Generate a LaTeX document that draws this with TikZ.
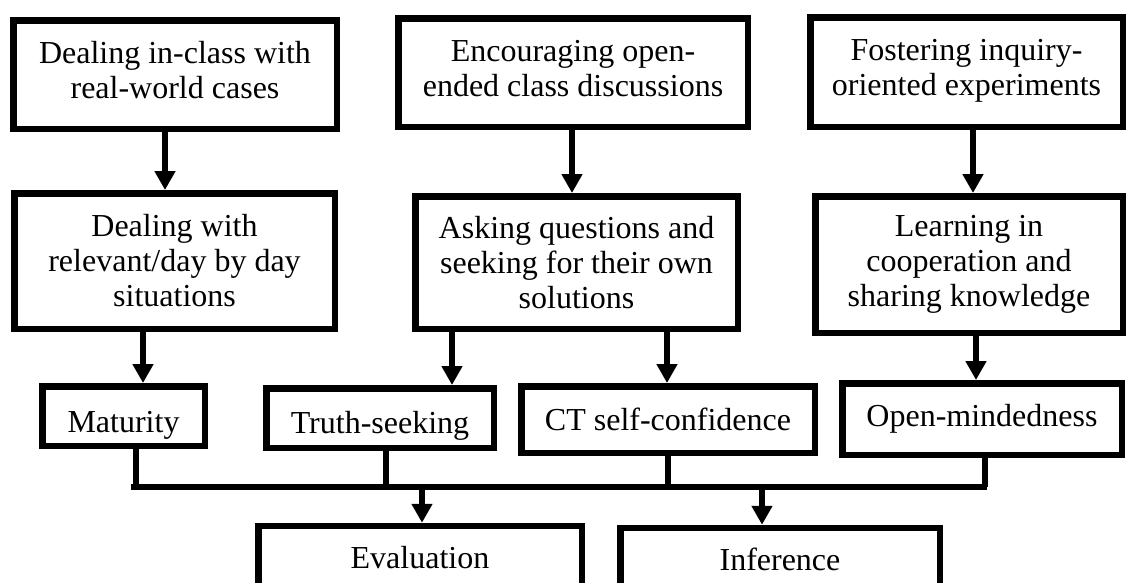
\documentclass[tikz,border=0pt]{standalone}
\usepackage{fontspec}
\setmainfont{Liberation Serif}
\usetikzlibrary{arrows.meta}
\begin{document}
\begin{tikzpicture}[x=1pt,y=-1pt,
  box/.style={draw, line width=6.5pt, align=center, inner sep=0pt,
    font=\fontsize{32}{35}\selectfont},
  arr/.style={line width=6pt, -{Triangle[width=20pt,length=19pt]}},
  link/.style={line width=6pt}]
\useasboundingbox (0,0) rectangle (1128,582);
\clip (0,0) rectangle (1128,582);
% row 1
\node[box, minimum width=323.5pt, minimum height=108.5pt, text depth=8.5pt] (A1) at (175,74.5)
  {Dealing in-class with\\real-world cases};
\node[box, minimum width=349.5pt, minimum height=108.5pt, text depth=8.5pt] (B1) at (573,72.5)
  {Encouraging open-\\ended class discussions};
\node[box, minimum width=312.5pt, minimum height=109.5pt, text depth=9.5pt] (C1) at (966.5,72)
  {Fostering inquiry-\\oriented experiments};
% row 2
\node[box, minimum width=320.5pt, minimum height=135.5pt] (A2) at (174.5,261)
  {Dealing with\\relevant/day by day\\situations};
\node[box, minimum width=322.5pt, minimum height=132.5pt] (B2) at (576.5,262.5)
  {Asking questions and\\seeking for their own\\solutions};
\node[box, minimum width=307.5pt, minimum height=136.5pt] (C2) at (969,264.5)
  {Learning in\\cooperation and\\sharing knowledge};
% row 3
\node[box, minimum width=162.5pt, minimum height=59.5pt, text height=32pt, text depth=0pt] (Mat) at (123.5,416) {Maturity};
\node[box, minimum width=227.5pt, minimum height=59.5pt, text height=30pt, text depth=0pt] (Tru) at (380,418) {Truth-seeking};
\node[box, minimum width=293.5pt, minimum height=66.5pt] (CT) at (668,419.5) {CT self-confidence};
\node[box, minimum width=279.5pt, minimum height=71.5pt] (Open) at (982,419) {Open-mindedness};
% row 4
\node[box, minimum width=323.5pt, minimum height=70pt, text depth=7.9pt] (Eval) at (420,561) {Evaluation};
\node[box, minimum width=319.5pt, minimum height=70pt, text depth=7.9pt] (Inf) at (780,563) {Inference};
% arrows rows 1-2
\draw[arr] ([xshift=-10pt]A1.south) -- ([xshift=-10pt]A1.south |- A2.north);
\draw[arr] ([xshift=-1pt]B1.south) -- ([xshift=-1pt]B1.south |- B2.north);
\draw[arr] ([xshift=6.5pt]C1.south) -- ([xshift=6.5pt]C1.south |- C2.north);
% arrows rows 2-3
\draw[arr] ([xshift=-31.5pt]A2.south) -- ([xshift=-31.5pt]A2.south |- Mat.north);
\draw[arr] ([xshift=-124.5pt]B2.south) -- ([xshift=-124.5pt]B2.south |- Tru.north);
\draw[arr] ([xshift=90.5pt]B2.south) -- ([xshift=90.5pt]B2.south |- CT.north);
\draw[arr] ([xshift=7pt]C2.south) -- ([xshift=7pt]C2.south |- Open.north);
% bus
\coordinate (busL) at (131,487);
\coordinate (busR) at (987,487);
\draw[link] (busL) -- (busR);
\draw[link] ([xshift=12.5pt]Mat.south) -- ([xshift=12.5pt]Mat.south |- busL);
\draw[link] ([xshift=5.5pt]Tru.south) -- ([xshift=5.5pt]Tru.south |- busL);
\draw[link] (CT.south) -- (CT.south |- busL);
\draw[link] ([xshift=2.5pt]Open.south) -- ([xshift=2.5pt]Open.south |- busL);
% bus to row 4
\draw[arr] ([xshift=2pt]Eval.north |- busL) -- ([xshift=2pt]Eval.north);
\draw[arr] ([xshift=-18pt]Inf.north |- busL) -- ([xshift=-18pt]Inf.north);
\end{tikzpicture}
\end{document}
